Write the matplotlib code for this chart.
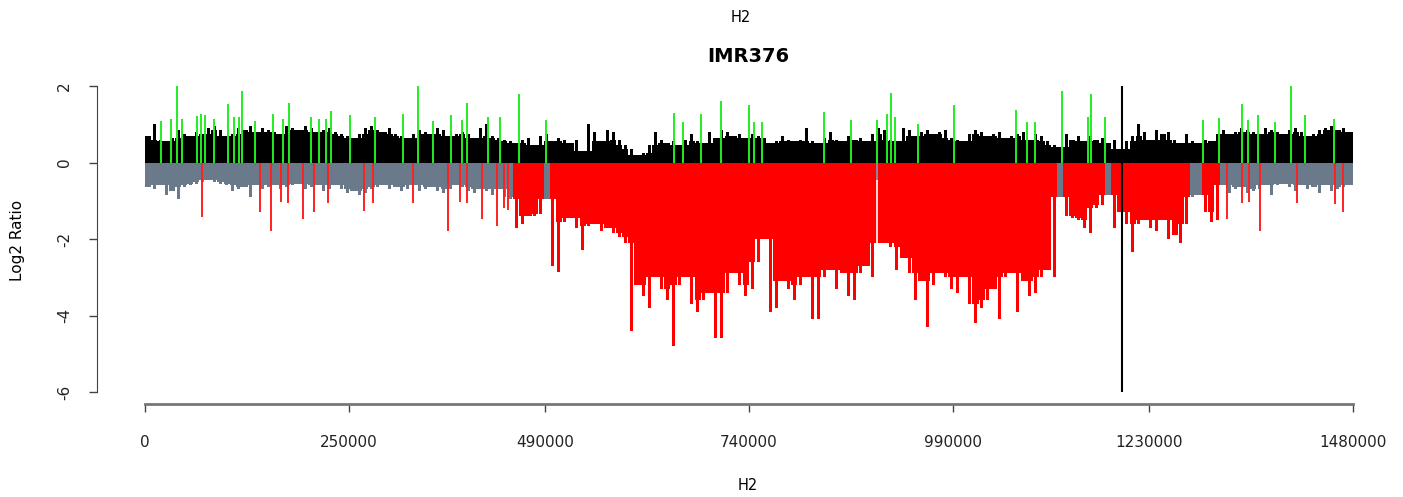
import numpy as np
import matplotlib
matplotlib.use("Agg")
import matplotlib.pyplot as plt

# ---- data (log2 ratio, binned along H2) ----
BIN_SIZE = 7400
X_MAX = 1480000

# upper envelope per bin (probes > 0)
TOP = [
    0.7, 1.0, 0.6, 0.55, 0.65, 0.85, 0.75, 0.7, 0.8, 0.75,
    0.9, 0.95, 0.85, 0.7, 0.75, 0.9, 0.85, 0.95, 0.8, 0.9,
    0.85, 0.8, 0.75, 0.95, 0.9, 0.85, 0.95, 0.9, 0.8, 0.85,
    0.9, 0.8, 0.75, 0.7, 0.65, 0.75, 0.9, 0.95, 0.85, 0.8,
    0.9, 0.75, 0.7, 0.65, 0.75, 0.85, 0.8, 0.75, 0.9, 0.85,
    0.7, 0.75, 0.8, 0.75, 0.65, 0.9, 1.0, 0.7, 0.65, 0.6,
    0.55, 0.5, 0.6, 0.65, 0.45, 0.7, 0.75, 0.55, 0.65, 0.6,
    0.5, 0.6, 0.3, 1.0, 0.8, 0.55, 0.85, 0.8, 0.6, 0.45,
    0.35, 0.2, 0.25, 0.45, 0.8, 0.6, 0.5, 0.55, 0.45, 0.6,
    0.75, 0.55, 0.5, 0.8, 0.65, 0.85, 0.8, 0.7, 0.75, 0.65,
    0.75, 0.7, 0.65, 0.5, 0.55, 0.7, 0.6, 0.55, 0.6, 0.9,
    0.55, 0.5, 0.65, 0.8, 0.6, 0.55, 0.7, 0.6, 0.65, 0.55,
    0.75, 0.9, 0.85, 0.6, 0.55, 0.9, 0.85, 0.7, 0.8, 0.85,
    0.75, 0.8, 0.85, 0.65, 0.6, 0.55, 0.75, 0.85, 0.8, 0.7,
    0.75, 0.8, 0.65, 0.7, 0.75, 0.8, 0.6, 0.75, 0.7, 0.55,
    0.45, 0.4, 0.75, 0.6, 0.7, 0.55, 0.7, 0.6, 0.65, 0.5,
    0.6, 0.35, 0.55, 0.7, 1.0, 0.8, 0.6, 0.85, 0.75, 0.8,
    0.6, 0.5, 0.75, 0.55, 0.5, 0.6, 0.55, 0.75, 0.85, 0.75,
    0.8, 0.9, 0.85, 0.8, 0.75, 0.9, 0.85, 0.8, 0.75, 0.85,
    0.9, 0.8, 0.7, 0.75, 0.85, 0.9, 0.95, 0.85, 0.9, 0.8,
]

# lower envelope per bin (probes < 0)
BOTTOM = [
    -0.65, -0.7, -0.6, -0.85, -0.75, -0.95, -0.65, -0.6, -0.55, -0.5,
    -0.45, -0.5, -0.55, -0.6, -0.75, -0.7, -0.65, -0.9, -0.6, -0.7,
    -0.65, -0.6, -0.7, -0.65, -0.6, -0.55, -0.7, -0.65, -0.6, -0.75,
    -0.7, -0.6, -0.7, -0.8, -0.75, -0.85, -0.8, -0.7, -0.65, -0.6,
    -0.7, -0.65, -0.75, -0.7, -0.6, -0.75, -0.7, -0.65, -0.75, -0.8,
    -0.7, -0.6, -0.65, -0.75, -0.8, -0.7, -0.75, -0.85, -0.7, -0.9,
    -0.95, -1.7, -1.6, -1.4, -1.4, -1.35, -0.95, -2.7, -2.85, -1.55,
    -1.45, -1.7, -2.3, -1.65, -1.6, -1.8, -1.7, -1.85, -1.95, -2.1,
    -4.4, -3.2, -3.5, -3.8, -3.0, -3.3, -3.6, -4.8, -3.2, -3.0,
    -3.7, -3.9, -3.6, -3.4, -4.6, -4.6, -3.4, -2.9, -3.2, -3.5,
    -3.3, -2.6, -2.0, -3.9, -3.8, -3.1, -3.3, -3.6, -3.2, -3.0,
    -4.1, -4.1, -3.0, -2.8, -3.3, -2.9, -3.5, -3.6, -2.9, -2.7,
    -3.0, -2.1, -2.1, -2.2, -2.8, -2.5, -2.9, -3.6, -3.1, -4.3,
    -3.2, -2.9, -3.0, -3.3, -3.4, -3.0, -3.7, -4.2, -3.8, -3.6,
    -3.3, -4.1, -3.0, -2.9, -3.9, -3.1, -3.5, -3.4, -3.0, -2.8,
    -3.0, -0.9, -1.4, -1.45, -1.5, -1.7, -1.85, -1.2, -1.1, -0.85,
    -1.7, -1.3, -1.6, -2.35, -1.6, -1.5, -1.7, -1.8, -1.5, -2.0,
    -1.9, -2.1, -1.6, -0.9, -0.85, -1.3, -1.55, -1.5, -0.6, -0.8,
    -0.7, -0.65, -0.8, -0.75, -0.7, -0.6, -0.85, -0.6, -0.55, -0.65,
    -0.75, -0.6, -0.7, -0.65, -0.8, -0.6, -0.75, -0.7, -0.65, -0.6,
]

# called loss segments (start, end)
LOSS_SEGMENTS = [
    (451000, 488000),
    (494000, 1117000),
    (1125000, 1176000),
    (1185000, 1280000),
    (1295000, 1317000),
]

# single probes called as gain
GAIN_POS = [19200, 31500, 39600, 45000, 63700, 68600, 73500, 84500, 101700,
            109000, 115200, 118500, 134800, 156500, 169100, 176400, 203000,
            213200, 221400, 227500, 251200, 281800, 316100, 334500, 352900,
            374500, 388400, 394100, 420200, 435000, 458200, 491300, 648100,
            659100, 680800, 705700, 740000, 746200, 755600, 831900, 864600,
            896500, 908700, 913600, 918900, 947100, 991200, 1067100, 1080200,
            1090400, 1123900, 1155700, 1158700, 1176200, 1296600, 1316200,
            1343700, 1351000, 1364000, 1384500, 1403700, 1421200, 1457200]
GAIN_VAL = [1.08, 1.14, 2.27, 1.14, 1.22, 1.27, 1.24, 1.14, 1.53,
            1.2, 1.18, 1.88, 1.08, 1.27, 1.14, 1.55, 1.18,
            1.14, 1.14, 1.34, 1.23, 1.18, 1.27, 2.12, 1.08,
            1.25, 1.12, 1.55, 1.18, 1.2, 1.78, 1.12, 1.29,
            1.05, 1.27, 1.6, 1.51, 1.05, 1.05, 1.32, 1.1,
            1.1, 1.27, 1.82, 1.2, 1.01, 1.51, 1.36, 1.05,
            1.05, 1.86, 1.18, 1.78, 1.18, 1.12, 1.17,
            1.53, 1.12, 1.25, 1.05, 2.1, 1.25, 1.14]

# single probes called as loss
LOSS_POS = [69500, 140900, 154000, 166600, 174800, 193600, 207000, 224200,
            268300, 279300, 328000, 371200, 385900, 394100, 412500, 430900,
            439900, 444700, 1325300, 1344000, 1352600, 1366000, 1411000,
            1458000, 1467800]
LOSS_VAL = [-1.43, -1.3, -1.78, -1.04, -1.06, -1.47, -1.3, -1.06,
            -1.27, -1.06, -1.06, -1.8, -1.04, -1.06, -1.47, -1.67,
            -1.2, -1.25, -1.47, -1.06, -1.04, -1.78, -1.06,
            -1.08, -1.3]

# neutral probe splitting the big loss
GAP_POS = [896300]
GAP_VAL = [-0.45]

MARKER_POS = 1197000


def neighbour_core(v, shallow):
    # solid part of each bin: the shallowest of the bin and its neighbours
    p = np.pad(v, 1, mode='edge')
    return shallow(np.stack([p[:-2], p[1:-1], p[2:]]), axis=0)


# ---- plot ----
plt.rcParams['font.family'] = ['DejaVu Sans']

W, H = 1403, 497
fig = plt.figure(figsize=(W / 100, H / 100), dpi=100)
ax = fig.add_axes([145 / W, 1 - 392 / H, 1208 / W, 306 / H])

pos = (np.arange(len(TOP)) + 0.5) * BIN_SIZE
top = np.array(TOP)
bottom = np.array(BOTTOM)
is_loss = np.zeros(len(pos), dtype=bool)
for a, b in LOSS_SEGMENTS:
    is_loss |= (pos >= a) & (pos <= b)

top_core = neighbour_core(top, np.min)
bot_core = neighbour_core(bottom, np.max)

gray, red = '#6b7a8b', '#ff0000'
# solid cores
ax.bar(pos, top_core, width=BIN_SIZE, color='black', linewidth=0)
ax.bar(pos[~is_loss], bot_core[~is_loss], width=BIN_SIZE, color=gray, linewidth=0)
ax.bar(pos[is_loss], bot_core[is_loss], width=BIN_SIZE, color=red, linewidth=0)
# spiky tips
ax.bar(pos, top, width=BIN_SIZE * 0.5, color='black', linewidth=0)
ax.bar(pos[~is_loss], bottom[~is_loss], width=BIN_SIZE * 0.5, color=gray, linewidth=0)
ax.bar(pos[is_loss], bottom[is_loss], width=BIN_SIZE * 0.5, color=red, linewidth=0)

ax.vlines(GAP_POS, -2.1, 0, color='white', linewidth=1.2)
ax.vlines(GAP_POS, GAP_VAL, 0, color=gray, linewidth=1.2)
ax.vlines(GAIN_POS, 0, GAIN_VAL, color='#22ee22', linewidth=1.4)
ax.vlines(LOSS_POS, 0, LOSS_VAL, color='#ff2020', linewidth=1.4)
ax.axvline(MARKER_POS, color='black', linewidth=1.5)

ax.set_xlim(0, X_MAX)
ax.set_ylim(-6, 2)

for s in ['top', 'right']:
    ax.spines[s].set_visible(False)
ax.spines['left'].set_position(('outward', 48 * 0.72))
ax.spines['bottom'].set_position(('outward', 12 * 0.72))
ax.spines['left'].set_bounds(-6, 2)
ax.spines['bottom'].set_bounds(0, X_MAX)
ax.spines['left'].set_color('#444444')
ax.spines['bottom'].set_color('#777777')
ax.spines['bottom'].set_linewidth(2.0)

ax.set_yticks([-6, -4, -2, 0, 2])
ax.set_yticklabels(['-6', '-4', '-2', '0', '2'], rotation=90, va='center')
ax.set_xticks([0, 250000, 490000, 740000, 990000, 1230000, 1480000])
ax.set_xticklabels(['0', '250000', '490000', '740000', '990000', '1230000', '1480000'])
ax.tick_params(axis='both', length=6, width=1, color='#444444', labelsize=11, labelcolor='#222222')
ax.tick_params(axis='x', pad=16)
ax.tick_params(axis='y', pad=12)

fig.text(741 / W, 1 - 17 / H, 'H2', ha='center', va='center', fontsize=10.5)
fig.text(748 / W, 1 - 56 / H, 'IMR376', ha='center', va='center', fontsize=14, fontweight='bold')
fig.text(748 / W, 1 - 485 / H, 'H2', ha='center', va='center', fontsize=10.5)
fig.text(18 / W, 1 - 240 / H, 'Log2 Ratio', ha='center', va='center', fontsize=11, rotation=90)

fig.savefig('out.png', dpi=100)
